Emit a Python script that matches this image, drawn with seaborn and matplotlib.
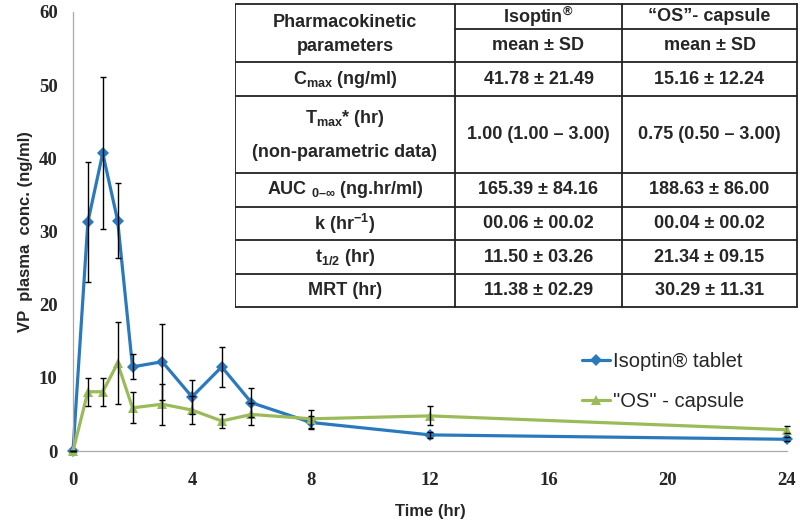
import matplotlib
matplotlib.use("Agg")
import matplotlib.pyplot as plt
import seaborn as sns
import pandas as pd

# -------------------------------
# Data
# -------------------------------
time_hr = [0, 0.5, 1, 1.5, 2, 3, 4, 5, 6, 8, 12, 24]
isoptin = [0, 31.3, 40.7, 31.5, 11.5, 12.2, 7.4, 11.5, 6.6, 3.9, 2.2, 1.6]
isoptin_sd = [0, 8.2, 10.4, 5.1, 1.7, 5.2, 2.3, 2.7, 2.0, 0.9, 0.4, 0.3]
os_caps = [0, 8.1, 8.1, 12.0, 5.9, 6.4, 5.6, 4.1, 5.0, 4.4, 4.8, 2.9]
os_sd = [0, 1.9, 1.9, 5.6, 2.1, 2.8, 1.9, 0.9, 1.5, 1.2, 1.3, 0.5]

series_names = ["Isoptin\u00ae tablet", "\"OS\" - capsule"]

table_header = ["Pharmacokinetic\nparameters", "Isoptin$^{\u00ae}$", "\u201cOS\u201d- capsule"]
table_sub = ["mean \u00b1 SD", "mean \u00b1 SD"]
table_params = ["C$_{max}$ (ng/ml)",
                "T$_{max}$* (hr)\n(non-parametric data)",
                "AUC $_{0\u2013\u221e}$ (ng.hr/ml)",
                "k (hr$^{-1}$)",
                "t$_{1/2}$ (hr)",
                "MRT (hr)"]
table_isoptin = ["41.78 \u00b1 21.49", "1.00 (1.00 \u2013 3.00)", "165.39 \u00b1 84.16",
                 "00.06 \u00b1 00.02", "11.50 \u00b1 03.26", "11.38 \u00b1 02.29"]
table_os = ["15.16 \u00b1 12.24", "0.75 (0.50 \u2013 3.00)", "188.63 \u00b1 86.00",
            "00.04 \u00b1 00.02", "21.34 \u00b1 09.15", "30.29 \u00b1 11.31"]

blue = "#2b79bd"
green = "#9bbb59"

df = pd.DataFrame({
    "time": time_hr * 2,
    "conc": isoptin + os_caps,
    "formulation": [series_names[0]] * len(time_hr) + [series_names[1]] * len(time_hr),
})

# -------------------------------
# Plot
# -------------------------------
sns.set_style("white")
plt.rcParams["font.family"] = ["Liberation Sans", "DejaVu Sans"]
plt.rcParams["mathtext.fontset"] = "custom"
plt.rcParams["mathtext.rm"] = "Liberation Sans:bold"
plt.rcParams["mathtext.bf"] = "Liberation Sans:bold"
plt.rcParams["mathtext.it"] = "Liberation Sans:bold"
plt.rcParams["mathtext.default"] = "bf"

fig = plt.figure(figsize=(8, 5.23), dpi=100)
ax = fig.add_axes([73 / 800, 1 - 451 / 523, (787 - 73) / 800, (451 - 12) / 523])

ax.errorbar(time_hr, isoptin, yerr=isoptin_sd, fmt="none", ecolor="black",
            elinewidth=1.0, capsize=2.5, capthick=1.0, zorder=3)
ax.errorbar(time_hr, os_caps, yerr=os_sd, fmt="none", ecolor="black",
            elinewidth=1.0, capsize=2.5, capthick=1.0, zorder=3)

sns.lineplot(data=df, x="time", y="conc", hue="formulation", style="formulation",
             palette=[blue, green], markers=["D", "^"], dashes=False,
             linewidth=2.3, markersize=6.5, markeredgewidth=0, ax=ax, zorder=2)

ax.set_xlim(0, 24)
ax.set_ylim(0, 60)
ax.set_xticks(range(0, 25, 4))
ax.set_yticks(range(0, 61, 10))
for lab in ax.get_xticklabels() + ax.get_yticklabels():
    lab.set_fontfamily("Liberation Serif")
    lab.set_fontweight("bold")
    lab.set_fontsize(13.5)
ax.tick_params(axis="both", direction="out", length=4, width=0.8, color="#999999", pad=7)
ax.tick_params(axis="x", pad=11)

for side in ["top", "right"]:
    ax.spines[side].set_visible(False)
for side in ["left", "bottom"]:
    ax.spines[side].set_color("#aaaaaa")
    ax.spines[side].set_linewidth(0.9)
for line in ax.lines:
    line.set_clip_on(False)

ax.set_xlabel("Time (hr)", fontsize=12, fontweight="bold", labelpad=11)
ax.set_ylabel("VP  plasma  conc. (ng/ml)", fontsize=12, fontweight="bold", labelpad=4)

handles, labels = ax.get_legend_handles_labels()
ax.legend(handles, labels, loc="upper left", bbox_to_anchor=(582 / 800, 1 - 352 / 523),
          bbox_transform=fig.transFigure, frameon=False, fontsize=14.5,
          labelspacing=1.05, handlelength=1.4, handletextpad=0.12, borderpad=0,
          borderaxespad=0)

# -------------------------------
# Table (drawn in pixel coordinates)
# -------------------------------
tx = fig.add_axes([235 / 800, 1 - 308 / 523, (798 - 235) / 800, (308 - 3) / 523])
tx.set_xlim(235, 798)
tx.set_ylim(308, 3)
tx.axis("off")
tx.add_patch(plt.Rectangle((235, 4), 562, 303, facecolor="white", edgecolor="none"))

col_x = [235, 455, 622, 797]
row_y = [4, 62, 96, 173, 207, 240, 274, 307]
lw = 1.3
for y in row_y:
    tx.plot([col_x[0], col_x[-1]], [y, y], color="#222222", lw=lw)
tx.plot([col_x[1], col_x[-1]], [29, 29], color="#222222", lw=lw)
for x in col_x:
    tx.plot([x, x], [row_y[0], row_y[-1]], color="#222222", lw=lw)

fs = 13
cx = [(col_x[i] + col_x[i + 1]) / 2 for i in range(3)]
tx.text(cx[0], 34.5, table_header[0], ha="center", va="center",
        fontsize=fs, fontweight="bold", linespacing=1.6)
tx.text(cx[1], 16.5, table_header[1], ha="center", va="center", fontsize=fs, fontweight="bold")
tx.text(cx[2], 16.5, table_header[2], ha="center", va="center", fontsize=fs, fontweight="bold")
tx.text(cx[1], 46, table_sub[0], ha="center", va="center", fontsize=fs, fontweight="bold")
tx.text(cx[2], 46, table_sub[1], ha="center", va="center", fontsize=fs, fontweight="bold")
for i in range(len(table_params)):
    yc = (row_y[i + 1] + row_y[i + 2]) / 2
    tx.text(cx[0], yc, table_params[i], ha="center", va="center", fontsize=fs,
            fontweight="bold", linespacing=2.1)
    tx.text(cx[1], yc, table_isoptin[i], ha="center", va="center", fontsize=fs, fontweight="bold")
    tx.text(cx[2], yc, table_os[i], ha="center", va="center", fontsize=fs, fontweight="bold")

fig.savefig("out.png", dpi=100)
